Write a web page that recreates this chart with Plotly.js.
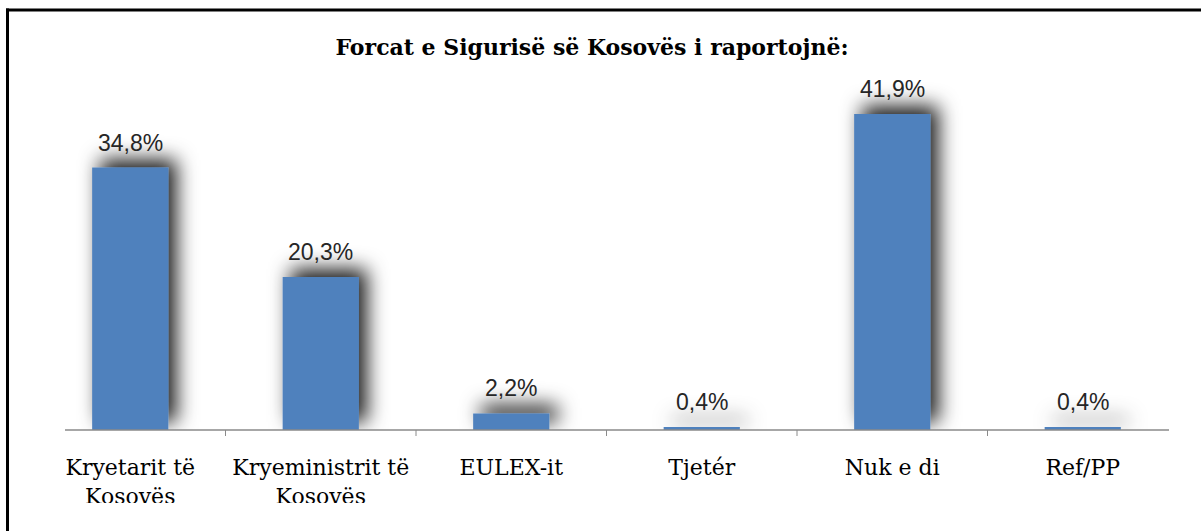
<!DOCTYPE html>
<html>
<head>
<meta charset="utf-8">
<script src="https://cdn.plot.ly/plotly-3.0.1.min.js"></script>
<style>html,body{margin:0;padding:0;background:#fff;}#chart{width:1201px;height:531px;}</style>
</head>
<body>
<div id="chart"></div>
<script>
// ---- data ----
const categories = ['Kryetarit të<br>Kosovës', 'Kryeministrit të<br>Kosovës', 'EULEX-it', 'Tjetér', 'Nuk e di', 'Ref/PP'];
const values = [34.8, 20.3, 2.2, 0.4, 41.9, 0.4];
const valueLabels = values.map(v => v.toFixed(1).replace('.', ',') + '%');
const chartTitle = 'Forcat e Sigurisë së Kosovës i raportojnë:';

// ---- geometry helpers (pixel -> paper) ----
const W = 1201, H = 531, L = 35, R = 23, T = 52.5, B = 101;
const plotW = W - L - R, plotH = H - T - B;
const px = x => (x - L) / plotW;
const py = y => (H - B - y) / plotH;

const axisColor = '#8a8a8a';
const shapes = [];
shapes.push({type:'line', xref:'paper', yref:'paper', x0:px(65), x1:px(1169), y0:0, y1:0,
  line:{color:axisColor, width:1.5}, layer:'above'});
for (let i = 0; i < categories.length - 1; i++) {
  shapes.push({type:'line', xref:'x', yref:'paper', x0:i + 0.5, x1:i + 0.5, y0:0, y1:py(436),
    line:{color:axisColor, width:1}, layer:'above'});
}
// bottom cut of the original picture
shapes.push({type:'rect', xref:'paper', yref:'paper', x0:px(9), x1:px(1205), y0:py(503), y1:py(540),
  fillcolor:'#fff', line:{width:0}, layer:'above'});
// frame (left + top)
shapes.push({type:'line', xref:'paper', yref:'paper', x0:px(7.5), x1:px(7.5), y0:py(8), y1:py(540),
  line:{color:'#000', width:3}, layer:'above'});
shapes.push({type:'line', xref:'paper', yref:'paper', x0:px(6), x1:px(1205), y0:py(9.5), y1:py(9.5),
  line:{color:'#000', width:3}, layer:'above'});

const annotations = categories.map((c, i) => ({
  x: c, y: values[i], xref:'x', yref:'y', text: valueLabels[i], showarrow:false,
  yanchor:'bottom', xanchor:'center', yshift:10,
  font:{family:'Liberation Sans', size:23, color:'#262626'}
}));

const trace = {
  type:'bar', x: categories, y: values,
  marker:{color:'#4F81BD', line:{width:0}},
  hoverinfo:'none'
};

const layout = {
  width:W, height:H,
  margin:{l:L, r:R, t:T, b:B, pad:0},
  paper_bgcolor:'#fff', plot_bgcolor:'#fff',
  bargap:0.6,
  showlegend:false,
  title:{text:chartTitle, font:{family:'DejaVu Serif', size:22, color:'#000', weight:700},
    xref:'container', x:592/W, xanchor:'center', yref:'container', y:1 - 47/H, yanchor:'middle'},
  xaxis:{type:'category', range:[-0.5, categories.length - 0.5], showline:false, ticks:'',
    showgrid:false, zeroline:false, ticklabelstandoff:22,
    tickfont:{family:'DejaVu Serif', size:22, color:'#000'}},
  yaxis:{range:[0, 50], visible:false, showgrid:false, zeroline:false},
  shapes: shapes,
  annotations: annotations
};

Plotly.newPlot('chart', [trace], layout, {staticPlot:true, displayModeBar:false}).then(gd => {
  const svg = gd.querySelector('.main-svg');
  const NS = 'http://www.w3.org/2000/svg';
  let defs = svg.querySelector('defs');
  if (!defs) { defs = document.createElementNS(NS, 'defs'); svg.insertBefore(defs, svg.firstChild); }
  const f = document.createElementNS(NS, 'filter');
  f.setAttribute('id', 'barshadow');
  f.setAttribute('filterUnits', 'userSpaceOnUse');
  f.setAttribute('x', '-300'); f.setAttribute('y', '-300');
  f.setAttribute('width', '1800'); f.setAttribute('height', '1200');
  f.innerHTML = '<feGaussianBlur in="SourceAlpha" stdDeviation="10"/>' +
    '<feOffset dx="8" dy="-8" result="ob"/>' +
    '<feFlood flood-color="#000" flood-opacity="0.9"/>' +
    '<feComposite in2="ob" operator="in" result="sh"/>' +
    '<feMerge><feMergeNode in="sh"/><feMergeNode in="SourceGraphic"/></feMerge>';
  defs.appendChild(f);
  gd.querySelectorAll('.bars .point path').forEach(p => p.setAttribute('filter', 'url(#barshadow)'));
});
</script>
</body>
</html>
